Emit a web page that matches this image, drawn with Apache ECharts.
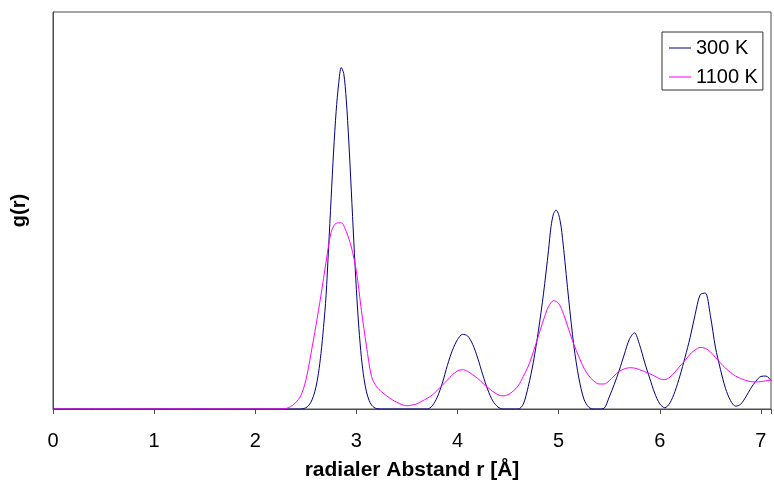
<!DOCTYPE html>
<html>
<head>
<meta charset="utf-8">
<script src="https://cdn.jsdelivr.net/npm/echarts@6/dist/echarts.min.js"></script>
<style>
  html, body { margin: 0; padding: 0; background: #fff; }
  #chart { width: 774px; height: 489px; }
</style>
</head>
<body>
<div id="chart"></div>
<script>
// radial distance r [Å] and g(r) (y in arbitrary units, no labels)
const r300 = [0, 2.45, 2.475, 2.5, 2.525, 2.55, 2.575, 2.6, 2.625, 2.65, 2.675, 2.7, 2.725, 2.75, 2.775, 2.8, 2.825, 2.85,
  2.875, 2.9, 2.925, 2.95, 2.975, 3.0, 3.025, 3.05, 3.075, 3.1, 3.125, 3.15, 3.175, 3.2, 3.25,
  3.7, 3.75, 3.8, 3.85, 3.9, 3.95, 4.0, 4.05, 4.1, 4.15, 4.2, 4.25, 4.3, 4.35, 4.4, 4.45,
  4.6, 4.65, 4.7, 4.75, 4.8, 4.85, 4.9, 4.925, 4.95, 4.975, 5.0, 5.025, 5.05, 5.1, 5.15, 5.2, 5.25, 5.3, 5.35, 5.4,
  5.45, 5.5, 5.55, 5.6, 5.65, 5.7, 5.75, 5.8, 5.85, 5.9, 5.95, 6.0, 6.05,
  6.1, 6.15, 6.2, 6.25, 6.3, 6.35, 6.4, 6.45, 6.5, 6.55, 6.6, 6.65, 6.7, 6.75, 6.8, 6.85, 6.9, 6.95, 7.0, 7.05, 7.1];
const g300 = [0, 0, 0.01, 0.03, 0.08, 0.17, 0.32, 0.55, 0.9, 1.4, 2.05, 2.85, 4.05, 5.3, 6.5, 7.5, 8.2, 8.6,
  8.45, 7.79, 6.75, 5.49, 4.2, 3.01, 2.03, 1.29, 0.77, 0.43, 0.22, 0.1, 0.04, 0.01, 0,
  0, 0.08, 0.3, 0.65, 1.1, 1.48, 1.75, 1.88, 1.84, 1.63, 1.28, 0.86, 0.48, 0.2, 0.05, 0,
  0, 0.12, 0.57, 1.18, 1.97, 2.9, 4.0, 4.6, 4.92, 5.01, 4.9, 4.58, 4.02, 2.75, 1.6, 0.78, 0.25, 0.04, 0, 0,
  0.02, 0.3, 0.62, 0.98, 1.38, 1.76, 1.92, 1.62, 1.18, 0.78, 0.4, 0.13, 0.03,
  0.15, 0.44, 0.84, 1.3, 1.8, 2.38, 2.88, 2.92, 2.36, 1.56, 1.0, 0.52, 0.21, 0.07, 0.12, 0.3, 0.52, 0.7, 0.82, 0.83, 0.72];

const r1100 = [0, 2.25, 2.3, 2.35, 2.4, 2.45, 2.5, 2.55, 2.6, 2.65, 2.7, 2.75, 2.8, 2.85, 2.9, 2.95, 3.0, 3.05, 3.1, 3.15,
  3.2, 3.25, 3.3, 3.35, 3.4, 3.45, 3.5, 3.55, 3.6, 3.65, 3.7, 3.75, 3.8, 3.85, 3.9, 3.95, 4.0, 4.05, 4.1, 4.15,
  4.2, 4.25, 4.3, 4.35, 4.4, 4.45, 4.5, 4.55, 4.6, 4.65, 4.7, 4.75, 4.8, 4.85, 4.9, 4.95, 5.0, 5.05, 5.1, 5.15,
  5.2, 5.25, 5.3, 5.35, 5.4, 5.45, 5.5, 5.55, 5.6, 5.65, 5.7, 5.75, 5.8, 5.85, 5.9, 5.95, 6.0, 6.05, 6.1, 6.15,
  6.2, 6.25, 6.3, 6.35, 6.4, 6.45, 6.5, 6.55, 6.6, 6.65, 6.7, 6.75, 6.8, 6.85, 6.9, 6.95, 7.0, 7.05, 7.1];
const g1100 = [0, 0, 0.01, 0.06, 0.16, 0.33, 0.72, 1.38, 2.1, 2.87, 3.7, 4.45, 4.68, 4.69, 4.47, 4.08, 3.47, 2.48, 1.58, 0.82,
  0.56, 0.43, 0.33, 0.24, 0.17, 0.11, 0.08, 0.1, 0.13, 0.2, 0.27, 0.35, 0.47, 0.6, 0.73, 0.86, 0.96, 0.99, 0.95, 0.86,
  0.77, 0.65, 0.54, 0.44, 0.36, 0.33, 0.36, 0.45, 0.58, 0.82, 1.08, 1.44, 1.84, 2.24, 2.58, 2.73, 2.66, 2.38, 2.0, 1.63,
  1.32, 1.03, 0.83, 0.7, 0.63, 0.63, 0.71, 0.84, 0.95, 1.01, 1.04, 1.03, 0.99, 0.94, 0.89, 0.83, 0.76, 0.74, 0.8, 0.93,
  1.08, 1.22, 1.38, 1.49, 1.55, 1.53, 1.44, 1.3, 1.16, 1.03, 0.92, 0.83, 0.77, 0.72, 0.69, 0.68, 0.69, 0.71, 0.73];

const seriesNames = ["300 K", "1100 K"];
const xTicks = [0, 1, 2, 3, 4, 5, 6, 7];

const font = "Liberation Sans";
const axisGray = "#4d4d4d";

const chart = echarts.init(document.getElementById("chart"));

const option = {
  animation: false,
  textStyle: { fontFamily: font },
  grid: {
    left: 53,
    top: 12,
    right: -1,
    bottom: 80,
    show: true,
    borderColor: axisGray,
    borderWidth: 1,
  },
  legend: {
    orient: "vertical",
    left: 662,
    top: 32,
    padding: [6, 5, 3, 7],
    itemGap: 9,
    itemWidth: 22,
    itemHeight: 1,
    icon: "rect",
    borderColor: "#333",
    borderWidth: 1,
    textStyle: { fontFamily: font, fontSize: 20, color: "#000", lineHeight: 20 },
    data: seriesNames,
  },
  xAxis: {
    type: "value",
    min: 0,
    max: 7.1,
    interval: 1,
    name: "radialer Abstand r [Å]",
    nameLocation: "middle",
    nameGap: 51,
    nameTextStyle: { fontFamily: font, fontSize: 21, fontWeight: "bold", color: "#000" },
    axisLine: { lineStyle: { color: axisGray, width: 1 } },
    axisTick: { show: true, length: 5, lineStyle: { color: axisGray } },
    axisLabel: {
      fontFamily: font,
      fontSize: 20,
      color: "#000",
      margin: 22,
      formatter: v => (xTicks.includes(v) ? String(v) : ""),
    },
    splitLine: { show: false },
  },
  yAxis: {
    type: "value",
    min: 0,
    max: 10,
    name: "g(r)",
    nameLocation: "middle",
    nameGap: 24,
    nameTextStyle: { fontFamily: font, fontSize: 20, fontWeight: "bold", color: "#000" },
    axisLine: { show: true, lineStyle: { color: axisGray, width: 1 } },
    axisTick: { show: false },
    axisLabel: { show: false },
    splitLine: { show: false },
  },
  series: [
    {
      name: seriesNames[0],
      type: "line",
      symbol: "none",
      smooth: 0.3,
      lineStyle: { color: "#000080", width: 1 },
      itemStyle: { color: "#000080" },
      data: r300.map((r, i) => [r, g300[i]]),
    },
    {
      name: seriesNames[1],
      type: "line",
      symbol: "none",
      smooth: 0.3,
      lineStyle: { color: "#ff00ff", width: 1 },
      itemStyle: { color: "#ff00ff" },
      data: r1100.map((r, i) => [r, g1100[i]]),
    },
  ],
};

chart.setOption(option);
</script>
</body>
</html>
